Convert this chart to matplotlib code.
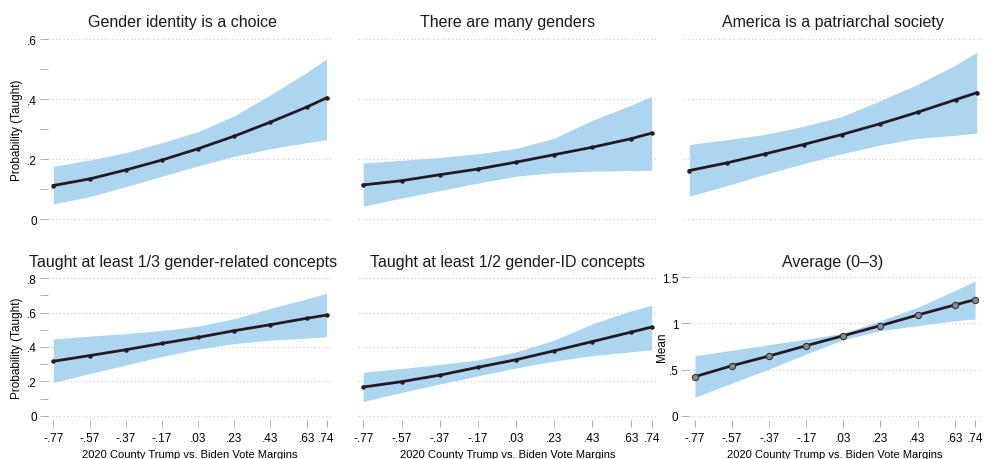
import numpy as np
import matplotlib
matplotlib.use("Agg")
import matplotlib.pyplot as plt

plt.rcParams['font.family'] = ['Liberation Sans', 'DejaVu Sans']

# x positions (2020 county Trump vs. Biden vote margin)
margins = [-0.77, -0.57, -0.37, -0.17, 0.03, 0.23, 0.43, 0.63, 0.74]
tick_labels = ['-.77', '-.57', '-.37', '-.17', '.03', '.23', '.43', '.63', '.74']

titles = [
    "Gender identity is a choice",
    "There are many genders",
    "America is a patriarchal society",
    "Taught at least 1/3 gender-related concepts",
    "Taught at least 1/2 gender-ID concepts",
    "Average (0\u20133)",
]

# predicted values and 95% CI bounds
choice_est = [0.112, 0.134, 0.164, 0.197, 0.235, 0.277, 0.324, 0.374, 0.405]
choice_hi = [0.176, 0.197, 0.222, 0.255, 0.292, 0.345, 0.415, 0.490, 0.535]
choice_lo = [0.050, 0.075, 0.108, 0.143, 0.178, 0.210, 0.235, 0.255, 0.265]

many_est = [0.114, 0.128, 0.148, 0.167, 0.190, 0.215, 0.240, 0.268, 0.287]
many_hi = [0.187, 0.196, 0.206, 0.218, 0.236, 0.270, 0.330, 0.380, 0.410]
many_lo = [0.043, 0.070, 0.095, 0.120, 0.143, 0.155, 0.160, 0.162, 0.163]

patri_est = [0.162, 0.188, 0.218, 0.249, 0.282, 0.318, 0.357, 0.399, 0.422]
patri_hi = [0.249, 0.265, 0.283, 0.310, 0.342, 0.395, 0.450, 0.515, 0.558]
patri_lo = [0.076, 0.112, 0.150, 0.185, 0.218, 0.247, 0.270, 0.280, 0.287]

third_est = [0.317, 0.350, 0.384, 0.421, 0.456, 0.495, 0.530, 0.567, 0.586]
third_hi = [0.447, 0.463, 0.478, 0.496, 0.522, 0.565, 0.625, 0.680, 0.713]
third_lo = [0.194, 0.245, 0.295, 0.345, 0.388, 0.420, 0.440, 0.452, 0.460]

half_est = [0.167, 0.198, 0.236, 0.282, 0.326, 0.378, 0.432, 0.486, 0.516]
half_hi = [0.253, 0.275, 0.298, 0.325, 0.372, 0.440, 0.535, 0.610, 0.643]
half_lo = [0.083, 0.135, 0.185, 0.232, 0.278, 0.318, 0.350, 0.372, 0.384]

avg_est = [0.423, 0.542, 0.647, 0.759, 0.867, 0.976, 1.091, 1.200, 1.258]
avg_hi = [0.650, 0.710, 0.770, 0.830, 0.895, 1.030, 1.175, 1.355, 1.460]
avg_lo = [0.200, 0.354, 0.506, 0.669, 0.824, 0.922, 0.976, 1.030, 1.048]

series = [
    (choice_est, choice_lo, choice_hi),
    (many_est, many_lo, many_hi),
    (patri_est, patri_lo, patri_hi),
    (third_est, third_lo, third_hi),
    (half_est, half_lo, half_hi),
    (avg_est, avg_lo, avg_hi),
]

W, H = 986, 460
BAND = '#acd5ef'
LINE = '#231a23'
GRID = '#d0d0d0'
TICK = '#b0b0b0'

# axes boxes in pixels: left, right, top, bottom
boxes = [
    (48, 332, 36, 224.5),
    (357.6, 657.4, 36, 224.5),
    (683.6, 982.4, 36, 224.5),
    (48, 332, 275, 421),
    (357.6, 657.4, 275, 421),
    (689.4, 980.6, 274, 421),
]
title_x = [183, 508, 832.5, 183, 508, 832.5]
title_y = [23, 23, 23, 262, 262, 262]
# right edge of the rotated y label, in pixels
ylabel_x = {0: 23, 3: 23, 5: 668}

fig = plt.figure(figsize=(W / 100, H / 100), dpi=100)
fig.patch.set_facecolor('white')

for i, (est, lo, hi) in enumerate(series):
    l, r, t, b = boxes[i]
    ax = fig.add_axes([l / W, 1 - b / H, (r - l) / W, (b - t) / H])
    ax.fill_between(margins, lo, hi, color=BAND, lw=0, zorder=1)
    if i == 5:
        ax.plot(margins, est, color=LINE, lw=2.0, zorder=3,
                marker='o', ms=4.5, mfc='#8a8a8a', mec='#333333', mew=0.8)
    else:
        ax.plot(margins, est, color=LINE, lw=2.0, zorder=3,
                marker='o', ms=2.2, mfc=LINE, mec=LINE)

    ax.set_xlim(-0.80, 0.77)
    if i < 3:
        ax.set_ylim(-0.015, 0.615)
        major = [0, 0.2, 0.4, 0.6]
        major_lab = ['0', '.2', '.4', '.6']
        minor = [0.1, 0.3, 0.5]
    elif i < 5:
        ax.set_ylim(-0.025, 0.825)
        major = [0, 0.2, 0.4, 0.6, 0.8]
        major_lab = ['0', '.2', '.4', '.6', '.8']
        minor = [0.1, 0.3, 0.5, 0.7]
    else:
        ax.set_ylim(-0.047, 1.547)
        major = [0, 0.5, 1.0, 1.5]
        major_lab = ['0', '.5', '1', '1.5']
        minor = []

    for y in major:
        ax.axhline(y, color=GRID, lw=0.9, ls=(0, (1, 2)), zorder=0)

    for s in ax.spines.values():
        s.set_visible(False)

    if i in (0, 3, 5):
        ax.set_yticks(major)
        ax.set_yticklabels(major_lab, fontsize=8.5)
        ax.set_yticks(minor, minor=True)
        ax.tick_params(axis='y', which='both', length=6, width=0.7,
                       color=TICK, pad=2)
        ax.set_ylabel('Mean' if i == 5 else 'Probability (Taught)',
                      fontsize=8.5)
        ax.yaxis.set_label_coords((ylabel_x[i] - l) / (r - l), 0.5)
    else:
        ax.set_yticks([])

    if i >= 3:
        ax.set_xticks(margins)
        ax.set_xticklabels(tick_labels, fontsize=8.5)
        ax.tick_params(axis='x', length=5, width=0.7, color=TICK, pad=4)
        ax.set_xlabel('2020 County Trump vs. Biden Vote Margins',
                      fontsize=8, labelpad=3)
    else:
        ax.set_xticks([])

    fig.text(title_x[i] / W, 1 - title_y[i] / H, titles[i],
             ha='center', va='center', fontsize=11.5, color='#1a1a1a')

fig.savefig('out.png', dpi=100, facecolor='white')
